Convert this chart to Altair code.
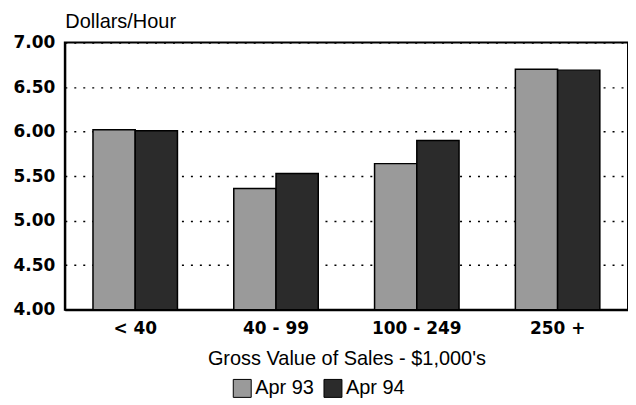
import altair as alt
import pandas as pd

categories = ["< 40", "40 - 99", "100 - 249", "250 +"]
series = ["Apr 93", "Apr 94"]
apr93 = [6.02, 5.36, 5.64, 6.70]
apr94 = [6.01, 5.53, 5.90, 6.69]
y_ticks = [4.0, 4.5, 5.0, 5.5, 6.0, 6.5, 7.0]
y_base = 4.0

rows = []
for c, a, b in zip(categories, apr93, apr94):
    rows.append({"cat": c, "series": series[0], "value": a})
    rows.append({"cat": c, "series": series[1], "value": b})
df = pd.DataFrame(rows)

chart = alt.Chart(df).mark_bar(stroke="black", strokeWidth=1.5).encode(
    x=alt.X("cat:N", sort=categories,
            scale=alt.Scale(paddingInner=0.4, paddingOuter=0.2),
            axis=alt.Axis(title="Gross Value of Sales - $1,000's", labelAngle=0,
                          ticks=False, labelPadding=11, titlePadding=12,
                          labelFont="DejaVu Sans", labelFontWeight="bold", labelFontSize=17,
                          labelColor="black",
                          titleFont="Liberation Sans", titleFontWeight="normal",
                          titleFontSize=20, titleColor="black",
                          domainColor="black", domainWidth=2)),
    xOffset=alt.XOffset("series:N", sort=series,
                        scale=alt.Scale(paddingInner=0, paddingOuter=0)),
    y=alt.Y("value:Q", scale=alt.Scale(domain=[4, 7], nice=False, zero=False),
            axis=alt.Axis(title="Dollars/Hour", values=y_ticks, format=".2f",
                          ticks=False, labelPadding=10,
                          labelFont="DejaVu Sans", labelFontWeight="bold", labelFontSize=17,
                          labelColor="black",
                          titleAngle=0, titleAlign="left", titleBaseline="alphabetic",
                          titleX=0, titleY=-15,
                          titleFont="Liberation Sans", titleFontWeight="normal",
                          titleFontSize=20, titleColor="black",
                          grid=True, gridColor="black", gridDash=[2, 7], gridWidth=1.5,
                          domainColor="black", domainWidth=2)),
    y2=alt.datum(y_base),
    color=alt.Color("series:N", sort=series,
                    scale=alt.Scale(domain=series, range=["#9a9a9a", "#2b2b2b"]),
                    legend=alt.Legend(title=None, orient="none", direction="horizontal",
                                      legendX=168, legendY=337,
                                      symbolType="square", symbolSize=324,
                                      symbolStrokeColor="black", symbolStrokeWidth=1,
                                      labelFont="Liberation Sans", labelFontSize=20,
                                      labelColor="black", labelOffset=3,
                                      columnPadding=8)),
).properties(
    width=565, height=268, background="white",
    padding={"left": 5, "top": 3, "right": 0, "bottom": 0},
).configure_view(
    stroke="black", strokeWidth=2
)

chart.save("out.html", embed_options={"renderer": "svg", "actions": False})
